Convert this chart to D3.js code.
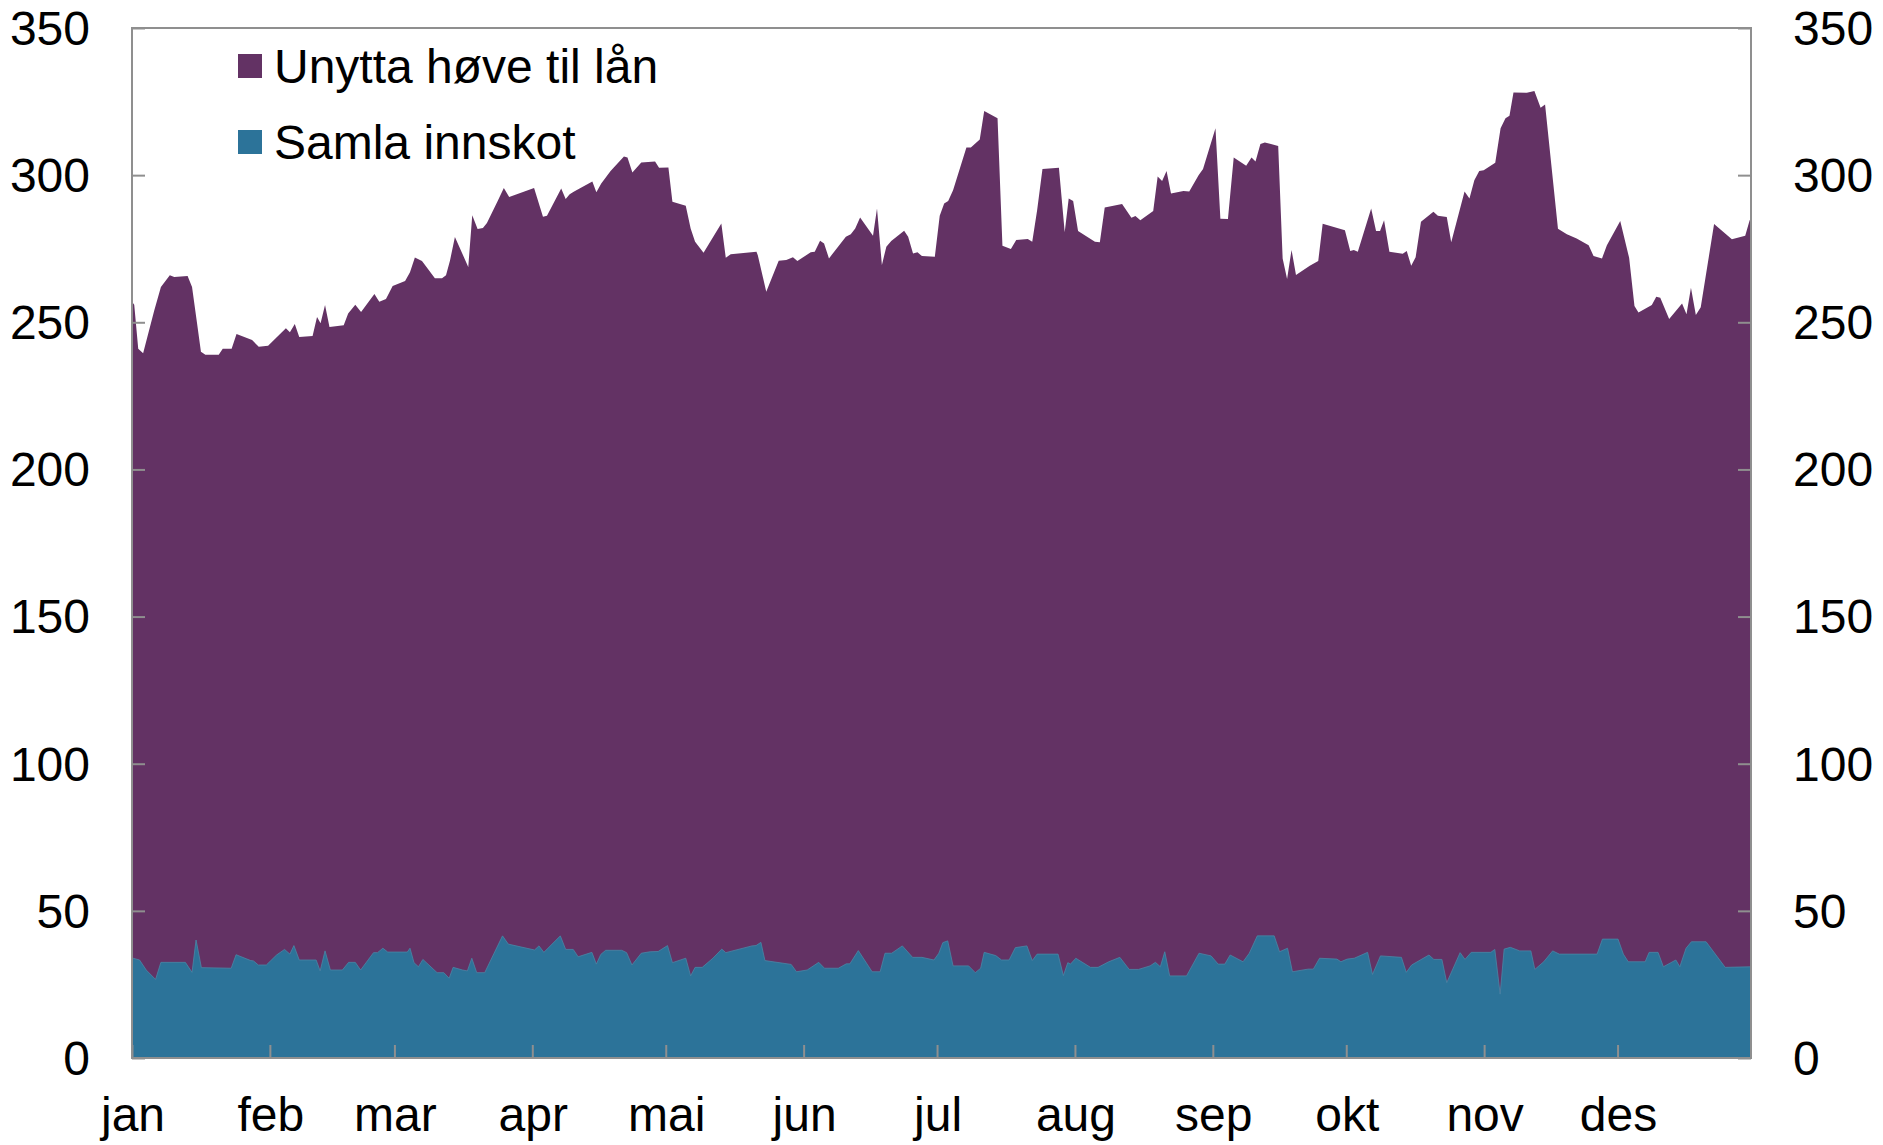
<!DOCTYPE html>
<html lang="no">
<head>
<meta charset="utf-8">
<title>Unytta høve til lån og samla innskot</title>
<script src="https://d3js.org/d3.v7.min.js"></script>
<style>
  body { margin: 0; background: #fff; }
  svg text { font-family: "Liberation Sans", Arial, sans-serif; fill: #000; }
</style>
</head>
<body>
<svg id="chart" width="1883" height="1145"></svg>
<script>
// months on the x axis (start day of each month, day 0 = 1 jan, day 364 = 31 des)
var monthLabels = ["jan","feb","mar","apr","mai","jun","jul","aug","sep","okt","nov","des"];
var monthStarts = [0,31,59,90,120,151,181,212,243,273,304,334];
var yTicks = [0,50,100,150,200,250,300,350];

// top of the stack: samla innskot + unytta høve til lån (day, value)
var sumDays = [0,0.5,1.4,2.5,5,6.5,8.5,9.5,12.5,13.5,14.5,15.5,16.5,19.5,20.4,22.4,23.5,27.0,28.5,30.6,
  34.6,35.5,36.6,37.6,40.6,41.6,42.4,43.4,44.4,47.6,48.6,50.2,51.5,54.5,55.6,57.1,58.6,61.4,62.5,63.6,
  65.2,68.1,69.7,70.6,71.5,72.6,75.6,76.5,77.7,78.9,79.8,82.3,83.6,84.8,90.4,92.4,93.3,96.5,97.5,98.4,
  99.4,103.5,104.4,105.5,107.6,110.6,111.4,112.5,114.5,117.6,118.5,120.6,121.5,124.5,125.6,126.6,128.5,132.5,133.5,134.6,
  140.4,140.7,142.6,145.4,147.1,148.6,149.6,152.6,153.5,154.7,155.6,156.7,160.5,161.6,162.6,163.7,166.6,167.5,168.6,169.6,
  170.7,173.6,174.5,175.6,176.6,177.6,180.5,181.6,182.6,183.5,184.6,187.6,188.6,190.6,191.6,194.6,195.7,197.6,198.8,201.4,
  202.4,203.5,204.7,208.4,209.7,210.6,211.6,212.7,216.5,217.6,218.7,222.6,224.7,225.6,226.7,229.6,230.6,231.6,232.6,233.6,
  236.4,237.7,239.8,240.8,243.6,244.7,246.4,247.7,250.5,251.7,252.6,253.7,254.7,257.7,258.7,259.7,260.7,261.7,264.8,266.7,
  267.7,272.7,273.9,274.7,275.6,278.6,279.7,280.6,281.5,282.7,285.7,286.6,287.6,288.6,289.8,292.6,293.6,295.6,296.6,299.6,
  300.7,301.8,302.9,303.9,306.5,307.7,308.8,309.7,310.6,313.6,315.3,316.7,317.7,320.6,322.6,324.8,327.5,328.6,330.5,331.6,
  334.6,336.6,337.8,338.7,341.7,342.7,343.6,345.6,348.5,349.5,350.5,351.6,352.7,355.7,359.7,362.7,363.7,364];
var sumValues = [257,256,241,239.5,254,262,266,265.4,265.7,262,251,240,239,239,241,241,246,244,241.7,242,
  248,246.6,249.4,245,245.3,251.8,249.7,255.9,248.4,249,253,256,253.5,259.6,257,257.9,262.3,264,267,272,
  270.8,265,265,266,271,279,268.8,286.4,281.7,282,283.7,291.5,295.6,292.6,295.6,285.9,286.2,295.5,291.9,293.5,
  294.4,297.8,294.2,297.2,301.4,306.3,306,300.9,304.3,304.6,302.5,302.6,291,289.6,281.9,277.4,273.6,283.6,271.9,273.1,
  274,272.8,260.4,270.9,271.2,272.1,270.8,273.8,274,277.7,276.8,271.7,279.1,279.9,281.9,285.6,279.4,288.7,269.5,275.7,
  277.6,281.1,279.1,273.4,273.8,272.5,272.3,286.2,290.4,291.2,294.9,309.4,309.4,312.1,321.8,319.3,276,274.9,278,278.3,
  277.4,288.1,302.1,302.5,280.6,292.1,291.2,281,277.4,277.2,289,290.2,285.5,286.1,284.7,287.8,299.5,298,301.4,293.8,
  294.6,294.4,300,302.1,315.9,285.2,285.1,306,303.2,306,304.6,310.6,311.1,309.9,271.7,264.7,274.6,266.1,269.2,270.8,
  283.5,281.3,274.2,274.6,274,288.7,281,281,284.7,274,273.3,274.2,269.2,272.1,284.2,287.6,286.2,285.8,277.2,294.4,
  292.1,298.3,301.4,301.7,304.2,315.9,319.3,320.2,328.1,328,328.6,322.9,324,281.8,279.9,278.5,276.2,272.5,271.7,276.2,
  284.4,271.9,255.5,253.3,255.9,258.7,258.3,251.1,256.4,252.7,261.7,252.5,255.1,283.4,278.2,279.4,284.7,285];

// samla innskot (day, value)
var depDays = [0,1.7,3.2,5.3,6.5,12,13.5,14.4,15.6,22.3,23.4,26.7,27.3,28.4,30.2,32.5,34.3,35.5,36.4,37.6,
  41.4,42.3,43.4,44.6,47.3,48.7,50.2,51.4,54.3,55.2,56.4,57.5,61.9,62.5,63.4,64.4,65.4,68.6,70.1,71.3,
  72.2,74.3,75.4,76.4,77.5,79.3,83.3,84.6,90.5,91.5,92.6,96.3,97.5,99.2,100.3,103.4,104.4,105.4,106.5,110.1,
  111.2,112.4,114.5,116.5,118.3,120.4,121.5,124.5,125.6,126.6,128.2,130.6,132.6,133.5,139.4,140.3,141.4,142.3,148.2,149.4,
  151.8,154.4,155.7,158.8,160.6,161.4,163.3,166.4,168.2,169.3,170.8,173.2,175.5,177.6,180.3,181.4,182.3,183.4,184.6,188.1,
  189.6,190.8,191.6,194.2,195.5,197.2,198.6,201.2,202.4,203.5,208.2,209.4,210.4,211.0,212.2,215.5,217.2,219.6,222.1,224.2,
  226.3,228.9,230.1,231.2,232.2,233.3,237.1,239.9,242.6,244.2,245.7,246.9,249.8,251.2,253.0,256.8,258.0,259.8,260.9,264.4,
  265.6,267.0,270.9,271.8,273.2,274.8,277.8,278.9,280.7,285.4,286.5,287.7,291.6,292.7,294.5,295.6,298.6,299.7,301.1,305.5,
  306.4,307.6,308.5,309.9,312.0,314.5,315.4,317.4,319.4,320.9,329.4,330.6,334.1,335.3,336.4,340.2,341.1,343.1,344.3,347.1,
  348.0,349.4,350.6,353.9,358.2,364];
var depValues = [34,33.3,29.9,26.7,32.5,32.5,29.1,40.1,30.7,30.5,35.1,33.1,33,31.6,31.6,35,36.9,35.3,38.2,33.3,
  33.3,29.6,36.4,29.9,29.9,32.5,32.5,29.9,35.8,35.8,37.3,36,36,37.3,32.4,31,33.5,29,29,27.1,
  30.8,29.9,29.6,33.9,29,29,41.5,38.7,36.7,38.1,35.9,41.5,36.9,36.9,34.4,35.9,31.9,35.2,36.6,36.6,
  35.8,31.6,35.6,36.1,36.2,38.2,32.4,33.9,27.9,30.8,30.8,33.9,37,35.8,38.1,38.2,39.3,33.1,31.8,29.3,
  29.9,32.5,30.5,30.5,32,32,36.5,29.3,29.3,35.6,35.6,38.1,34.2,34.2,33.3,35.6,39.2,39.8,31.3,31.3,
  29,30.5,35.9,34.8,33.3,33.3,37.5,38.1,33.1,35.3,35.3,28,32.4,31.9,33.9,30.8,30.8,32.7,34.2,30.1,
  30.1,31.3,32.5,31,36.1,27.9,27.9,35.6,34.7,31.9,31.9,35,32.7,35.6,41.5,41.5,36.1,37.3,29.3,30.2,
  30.2,33.9,33.6,32.7,33.6,33.9,35.9,28.4,34.7,34.2,29.1,31.6,35,33.5,33.5,25.6,35.8,33.5,35.9,35.9,
  36.9,21.7,37,37.6,36.4,36.4,30.1,32.7,36.4,35.3,35.3,40.4,40.4,35.3,32.7,32.7,35.9,35.9,31,33.3,
  31,37.3,39.5,39.5,30.8,31];

var legendNames = ["Unytta høve til lån", "Samla innskot"];
var colors = ["#633264", "#2c7399"];

var svg = d3.select("#chart");
var margin = { top: 28, right: 132, bottom: 87, left: 132 };
var width = 1883, height = 1145;
var axisColor = "#8f8f8f";

var x = d3.scaleLinear().domain([0, 364]).range([margin.left, width - margin.right]);
var y = d3.scaleLinear().domain([0, 350]).range([height - margin.bottom, margin.top]);

var sumData = sumDays.map(function(d, i) { return { d: d, v: sumValues[i] }; });
var depData = depDays.map(function(d, i) { return { d: d, v: depValues[i] }; });

var area = d3.area()
  .x(function(p) { return x(p.d); })
  .y0(y(0))
  .y1(function(p) { return y(p.v); });

// purple = full stack height, teal drawn over it
svg.append("path").datum(sumData).attr("d", area).attr("fill", colors[0]);
svg.append("path").datum(depData).attr("d", area).attr("fill", colors[1])
  .attr("stroke", "#4a87a6").attr("stroke-width", 0.8);

// frame
svg.append("rect")
  .attr("x", x(0)).attr("y", y(350))
  .attr("width", x(364) - x(0)).attr("height", y(0) - y(350))
  .attr("fill", "none").attr("stroke", axisColor).attr("stroke-width", 2);

// axes with inner ticks
var fontSize = 48;
var left = svg.append("g").attr("transform", "translate(" + x(0) + ",0)")
  .call(d3.axisRight(y).tickValues(yTicks).tickSize(13).tickFormat(""));
var right = svg.append("g").attr("transform", "translate(" + x(364) + ",0)")
  .call(d3.axisLeft(y).tickValues(yTicks).tickSize(13).tickFormat(""));
var bottom = svg.append("g").attr("transform", "translate(0," + y(0) + ")")
  .call(d3.axisTop(x).tickValues(monthStarts).tickSize(13).tickFormat(""));
[left, right, bottom].forEach(function(g) {
  g.select(".domain").remove();
  g.selectAll("line").attr("stroke", axisColor).attr("stroke-width", 2);
});

svg.selectAll(".ylabL").data(yTicks).join("text")
  .attr("x", 90).attr("y", function(d) { return y(d); })
  .attr("dy", "0.35em").attr("text-anchor", "end")
  .style("font-size", fontSize + "px").text(function(d) { return d; });
svg.selectAll(".ylabR").data(yTicks).join("text")
  .attr("x", 1793).attr("y", function(d) { return y(d); })
  .attr("dy", "0.35em").attr("text-anchor", "start")
  .style("font-size", fontSize + "px").text(function(d) { return d; });

svg.selectAll(".xlab").data(monthLabels).join("text")
  .attr("x", function(d, i) { return x(monthStarts[i]) + 1; })
  .attr("y", 1131).attr("text-anchor", "middle")
  .style("font-size", fontSize + "px").text(function(d) { return d; });

// legend
var legend = svg.append("g");
legendNames.forEach(function(name, i) {
  var cy = 66 + i * 76;
  legend.append("rect").attr("x", 238).attr("y", cy - 12).attr("width", 24).attr("height", 24)
    .attr("fill", colors[i]);
  legend.append("text").attr("x", 274).attr("y", cy).attr("dy", "0.35em")
    .style("font-size", fontSize + "px").text(name);
});
</script>
</body>
</html>
